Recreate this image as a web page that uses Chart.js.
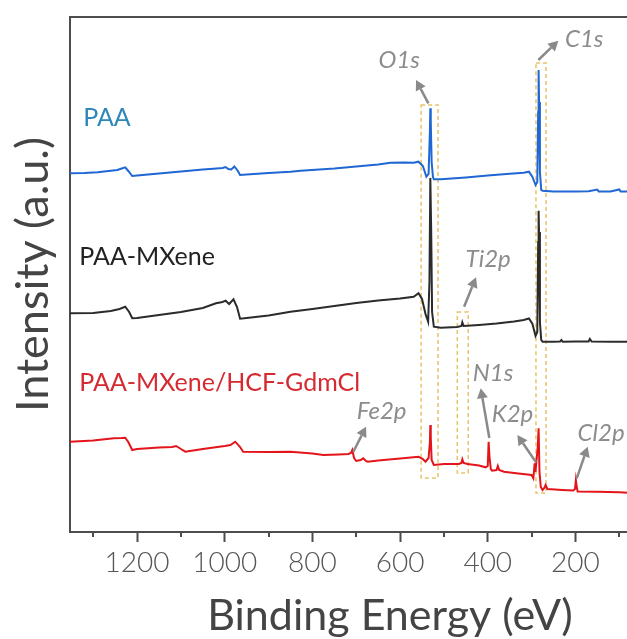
<!DOCTYPE html>
<html><head><meta charset="utf-8">
<script src="https://cdn.jsdelivr.net/npm/chart.js@4.4.0/dist/chart.umd.min.js"></script>
<style>html,body{margin:0;padding:0;overflow:hidden;background:#fff;width:627px;height:639px}
#wrap{width:712px;height:639px}</style></head>
<body><div id="wrap"><canvas id="c" width="712" height="639"></canvas></div>
<script>
// ---- data (Binding energy in eV, intensity in arbitrary units, curves offset as in figure) ----
const tickValues = [1300,1200,1100,1000,900,800,700,600,500,400,300,200,100];

const paaEnergy = [1353,1320,1290,1260,1245,1235,1227,1220,1211,1200,1150,1100,1050,1026,1005,998,992,985,978,970,965,950,900,850,827,750,700,650,622,590,569,558,548,540,535,532,531,530,528,525,523,507,450,400,350,318,306,298,291,287,285,284,283,281,278,275,250,200,170,150,147,120,100,97,80];
const paaIntensity = [358.7,359.0,359.8,361.2,362.0,363.5,364.7,361,356,356.5,358.5,360.5,362.5,363.3,364,365,363,362.5,365.5,361,357,357.5,359,360.3,361.3,363.5,365.5,367.5,369.3,369.5,369.3,370.3,366,355.3,358,400,423.7,410,370,355,352.7,352.7,354.5,356.5,358.3,359.3,360.3,355,347,350,420,462,430,360,342,341.3,340.5,340.5,340.7,342.5,340.5,340.5,342.5,340.5,340.5];

const mxeneEnergy = [1353,1300,1260,1240,1227,1218,1211,1200,1150,1100,1050,1020,1005,998,990,980,972,965,950,900,850,800,750,700,650,600,569,558,550,542,536,533,531,529,527,523,507,470,460,458,455,420,380,340,318,306,298,291,287,285,284,283,281,278,275,250,235,232,229,200,170,167,163,120,80];
const mxeneIntensity = [218.7,219,221,223,225.3,220,213.7,214,217,220,224,228.7,230,231.3,228,232.7,225,213.3,214,216.5,220.3,223,226,229,231.5,233.5,235.3,238.7,233,218,210.3,250,354,300,220,205.3,204.3,205,206,209.7,206,207,208.5,210.5,212,213.5,208,196,200,290,321.3,300,210,192,190.3,190.3,190.5,192,190.3,190.5,190.5,193,190.5,190.3,190.3];

const hcfEnergy = [1353,1300,1253,1235,1227,1220,1211,1200,1150,1120,1111,1100,1090,1050,1000,987,976,965,958,900,850,800,775,740,718,712,709,705,700,690,684,678,674,650,600,558,548,542,535,532,531,530,528,523,500,466,460,458,455,446,420,405,400,398,396,393,390,380,377,374,363,330,300,296,293,291,289,286,284,282,279,275,271,268,264,255,230,205,201,199,197,195,150,100,80];
const hcfIntensity = [90.3,91.5,93.7,94,94.3,90,82,83,84.5,85,86,83,80.3,83,86,87,90.3,85,80.3,80,80.3,78.5,77,77.5,78,79,82,74,71,72,73.7,71,70.3,71.5,73.5,75.3,73,70.3,74,90,107,95,72,67,68,68,69,72.7,69,68,66.5,64.7,66,90.3,75,63,61.3,62,66,62,60.3,58.5,57,53.7,68.7,60,70,85,103.7,60,45,42,44,47,43,42.7,42,41.5,43,52,45,40.5,40.3,39.8,39.3];

const seriesNames = ['PAA','PAA-MXene','PAA-MXene/HCF-GdmCl'];
const peakNames = ['O1s','C1s','Ti2p','N1s','K2p','Fe2p','Cl2p'];

// ---- styling / annotation placement (in data coordinates) ----
const lineColors = ['#1f67d3','#2b2b2b','#e3151b'];
const labelColors = ['#2d87b9','#222222','#d42a30'];
const seriesLabelPos = [{x:1323,y:414.5},{x:1332,y:275},{x:1332,y:149.5}];
const boxes = [{from:552,to:513.5,top:427,bottom:54},{from:290,to:267,top:469,bottom:39},{from:469.5,to:444.5,top:220,bottom:59}];
const arrows = [
  {tx:535.5,ty:428.7,hx:563.6,hy:452},
  {tx:284.6,ty:472,hx:239,hy:491.3},
  {tx:454,ty:225.3,hx:426.7,hy:254.7},
  {tx:396.4,ty:94,hx:416,hy:143.7},
  {tx:289.9,ty:69.7,hx:332.5,hy:97},
  {tx:706.6,ty:80.3,hx:677.6,hy:105.3},
  {tx:197,ty:53.7,hx:172,hy:85.3}
];
const peakLabelPos = [{x:602,y:471.5},{x:180,y:493},{x:399,y:273},{x:388,y:158.7},{x:343.5,y:118},{x:642,y:121},{x:141.5,y:99}];
const axisColor = '#4d4d4d';

const annot = {
  id:'annot',
  beforeDatasetsDraw(chart){
    const {ctx, scales:{x,y}} = chart;
    ctx.save();
    ctx.setLineDash([4,3]);
    ctx.strokeStyle = '#e8c46a';
    ctx.lineWidth = 1.5;
    boxes.forEach(b=>{
      const x1 = x.getPixelForValue(b.from), x2 = x.getPixelForValue(b.to);
      const y1 = y.getPixelForValue(b.top), y2 = y.getPixelForValue(b.bottom);
      ctx.strokeRect(x1, y1, x2-x1, y2-y1);
    });
    ctx.restore();
  },
  afterDraw(chart){
    const {ctx, chartArea, scales:{x,y}} = chart;
    ctx.save();
    // top frame line
    ctx.strokeStyle = axisColor; ctx.lineWidth = 2;
    ctx.beginPath(); ctx.moveTo(chartArea.left-1, chartArea.top); ctx.lineTo(chartArea.right, chartArea.top); ctx.stroke();
    // minor ticks
    tickValues.filter(v=>v%200!==0).forEach(v=>{
      const px = Math.round(x.getPixelForValue(v));
      ctx.beginPath(); ctx.moveTo(px, chartArea.bottom); ctx.lineTo(px, chartArea.bottom+5); ctx.stroke();
    });
    // arrows
    ctx.strokeStyle = '#8a8a8a'; ctx.fillStyle = '#8a8a8a'; ctx.lineWidth = 2.5;
    arrows.forEach(a=>{
      const tx = x.getPixelForValue(a.tx), ty = y.getPixelForValue(a.ty);
      const hx = x.getPixelForValue(a.hx), hy = y.getPixelForValue(a.hy);
      const ang = Math.atan2(hy-ty, hx-tx);
      const L = 10, W = 5.5;
      const bx = hx - L*Math.cos(ang), by = hy - L*Math.sin(ang);
      ctx.beginPath(); ctx.moveTo(tx,ty); ctx.lineTo(bx,by); ctx.stroke();
      ctx.beginPath();
      ctx.moveTo(hx,hy);
      ctx.lineTo(bx + W*Math.sin(ang), by - W*Math.cos(ang));
      ctx.lineTo(bx - W*Math.sin(ang), by + W*Math.cos(ang));
      ctx.closePath(); ctx.fill();
    });
    // peak labels
    ctx.font = 'italic 400 24px Lato';
    ctx.fillStyle = '#8c8c8c';
    ctx.textAlign = 'center'; ctx.textBaseline = 'middle';
    peakNames.forEach((t,i)=>{
      ctx.fillText(t, x.getPixelForValue(peakLabelPos[i].x), y.getPixelForValue(peakLabelPos[i].y));
    });
    // series labels
    ctx.font = '400 25px Lato';
    ctx.textAlign = 'left';
    seriesNames.forEach((t,i)=>{
      ctx.fillStyle = labelColors[i];
      ctx.fillText(t, x.getPixelForValue(seriesLabelPos[i].x), y.getPixelForValue(seriesLabelPos[i].y));
    });
    ctx.restore();
  }
};

const mk = (E,I) => E.map((e,i)=>({x:e,y:I[i]}));

new Chart(document.getElementById('c'), {
  type:'line',
  data:{datasets:[
    {label:seriesNames[0], data:mk(paaEnergy,paaIntensity), borderColor:lineColors[0], borderWidth:2, pointRadius:0, tension:0},
    {label:seriesNames[1], data:mk(mxeneEnergy,mxeneIntensity), borderColor:lineColors[1], borderWidth:2, pointRadius:0, tension:0},
    {label:seriesNames[2], data:mk(hcfEnergy,hcfIntensity), borderColor:lineColors[2], borderWidth:2, pointRadius:0, tension:0}
  ]},
  options:{
    responsive:false, animation:false, events:[],
    layout:{padding:{top:17,right:2,left:0,bottom:0}},
    plugins:{legend:{display:false}, tooltip:{enabled:false}},
    scales:{
      x:{type:'linear', reverse:true, min:-107, max:1353,
        afterBuildTicks: s => { s.ticks = tickValues.map(v=>({value:v})); },
        afterFit: s => { s.height = 107; },
        border:{display:true, color:axisColor, width:2},
        grid:{display:true, drawOnChartArea:false, drawTicks:true, tickLength:10, tickWidth:2,
          tickColor: c => (c.tick && c.tick.value % 200 === 0) ? axisColor : 'rgba(0,0,0,0)'},
        ticks:{autoSkip:false, maxRotation:0, padding:4, color:'#555', font:{family:'Lato', size:28, weight:300},
          callback: v => (v % 200 === 0) ? String(v) : ''},
        title:{display:true, text:'Binding Energy (eV)', color:'#444', font:{family:'Lato', size:43, weight:400, lineHeight:1}, padding:{top:0,bottom:1}}
      },
      y:{type:'linear', min:0, max:515,
        afterFit: s => { s.width = 70; },
        border:{display:true, color:axisColor, width:2},
        grid:{display:false},
        ticks:{display:false},
        title:{display:true, text:'Intensity (a.u.)', color:'#444', font:{family:'Lato', size:45, weight:400, lineHeight:1}, padding:{top:11,bottom:0}}
      }
    }
  },
  plugins:[annot]
});
</script></body></html>
